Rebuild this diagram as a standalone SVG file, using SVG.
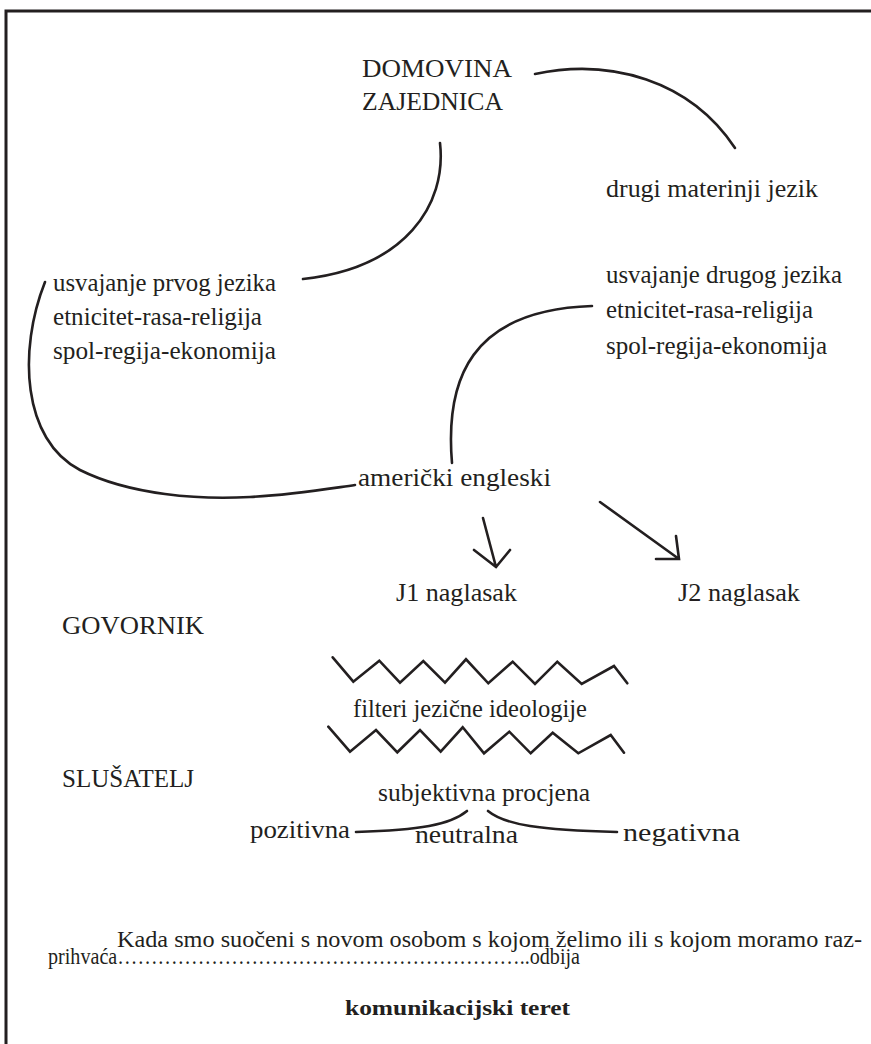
<svg xmlns="http://www.w3.org/2000/svg" width="871" height="1044" viewBox="0 0 871 1044">
<style>
text{font-family:"Liberation Serif","DejaVu Serif",serif;fill:#231f20;font-size:25px}
.caps{font-size:26px}
.ln{fill:none;stroke:#231f20;stroke-width:2.6;stroke-linecap:round;stroke-linejoin:miter}
.foot{font-size:24px}
.bold{font-weight:bold;font-size:22px}
</style>
<rect width="871" height="1044" fill="#fff"/>
<g id="frame">
<path d="M6,1044 V11 H871" fill="none" stroke="#231f20" stroke-width="3"/>
</g>
<g id="connectors">
<path class="ln" d="M535,74 C610,58 690,80 735,148"/>
<path class="ln" d="M440,143 C447,205 405,268 303,279"/>
<path class="ln" d="M45,282 C18,350 22,440 80,470 C130,495 200,500 250,497 C290,495 320,490 355,485"/>
<path class="ln" d="M452,463 C445,380 470,310 592,306"/>
<path class="ln" d="M483,518 L496,567 M474,550 L496,567 L510,550"/>
<path class="ln" d="M600,502 L679,559 M676,536 L679,559 L656,559"/>
<path class="ln" d="M332.7,657.3 L353.3,681.7 L379.3,660.7 L400,682.7 L423.3,661 L445,682.7 L466,659.3 L488.3,683.3 L512.7,661.7 L535,684 L557.3,661.7 L581.7,684 L614,666 L627.3,683.3"/>
<path class="ln" d="M328.3,726.7 L350,751.7 L376,730 L397.3,752.3 L420,730 L440.7,751.7 L462.7,727.3 L484,753.3 L509.3,731.7 L530.7,753.3 L552.7,732.7 L578.3,753.3 L610.7,735 L624,752.7"/>
<path class="ln" d="M467,811 C450,825 420,830 356,832"/>
<path class="ln" d="M488,811 C505,825 540,830 617,832"/>
</g>
<g id="domovina">
<text class="caps" x="362" y="77" textLength="150" lengthAdjust="spacingAndGlyphs">DOMOVINA</text>
<text class="caps" x="362" y="110" textLength="141" lengthAdjust="spacingAndGlyphs">ZAJEDNICA</text>
</g>
<g id="drugi-materinji">
<text x="606" y="197" textLength="212" lengthAdjust="spacingAndGlyphs">drugi materinji jezik</text>
</g>
<g id="prvi-jezik">
<text x="53" y="291" textLength="223" lengthAdjust="spacingAndGlyphs">usvajanje prvog jezika</text>
<text x="53" y="325" textLength="209" lengthAdjust="spacingAndGlyphs">etnicitet-rasa-religija</text>
<text x="53" y="359" textLength="223" lengthAdjust="spacingAndGlyphs">spol-regija-ekonomija</text>
</g>
<g id="drugi-jezik">
<text x="606" y="283" textLength="236" lengthAdjust="spacingAndGlyphs">usvajanje drugog jezika</text>
<text x="606" y="318" textLength="207" lengthAdjust="spacingAndGlyphs">etnicitet-rasa-religija</text>
<text x="606" y="354" textLength="221" lengthAdjust="spacingAndGlyphs">spol-regija-ekonomija</text>
</g>
<g id="americki">
<text x="358" y="486" textLength="193" lengthAdjust="spacingAndGlyphs">američki engleski</text>
</g>
<g id="j1">
<text x="396" y="601" textLength="121" lengthAdjust="spacingAndGlyphs">J1 naglasak</text>
</g>
<g id="j2">
<text x="678" y="601" textLength="122" lengthAdjust="spacingAndGlyphs">J2 naglasak</text>
</g>
<g id="govornik">
<text class="caps" x="62" y="634" textLength="142" lengthAdjust="spacingAndGlyphs">GOVORNIK</text>
</g>
<g id="filteri">
<text x="353" y="717" textLength="234" lengthAdjust="spacingAndGlyphs">filteri jezične ideologije</text>
</g>
<g id="slusatelj">
<text class="caps" x="62" y="787" textLength="132" lengthAdjust="spacingAndGlyphs">SLUŠATELJ</text>
</g>
<g id="subjektivna">
<text x="378" y="801" textLength="212" lengthAdjust="spacingAndGlyphs">subjektivna procjena</text>
</g>
<g id="pozitivna">
<text x="250" y="838" textLength="100" lengthAdjust="spacingAndGlyphs">pozitivna</text>
</g>
<g id="neutralna">
<text x="415" y="843" textLength="103" lengthAdjust="spacingAndGlyphs">neutralna</text>
</g>
<g id="negativna">
<text x="623" y="841" textLength="117" lengthAdjust="spacingAndGlyphs">negativna</text>
</g>
<g id="footer">
<text class="foot" x="117" y="947" textLength="745" lengthAdjust="spacingAndGlyphs">Kada smo suočeni s novom osobom s kojom želimo ili s kojom moramo raz-</text>
<text class="foot" x="48" y="964" textLength="532" lengthAdjust="spacingAndGlyphs">prihvaća……………………………………………………..odbija</text>
<text class="bold" x="345" y="1015" textLength="225" lengthAdjust="spacingAndGlyphs">komunikacijski teret</text>
</g>
</svg>
